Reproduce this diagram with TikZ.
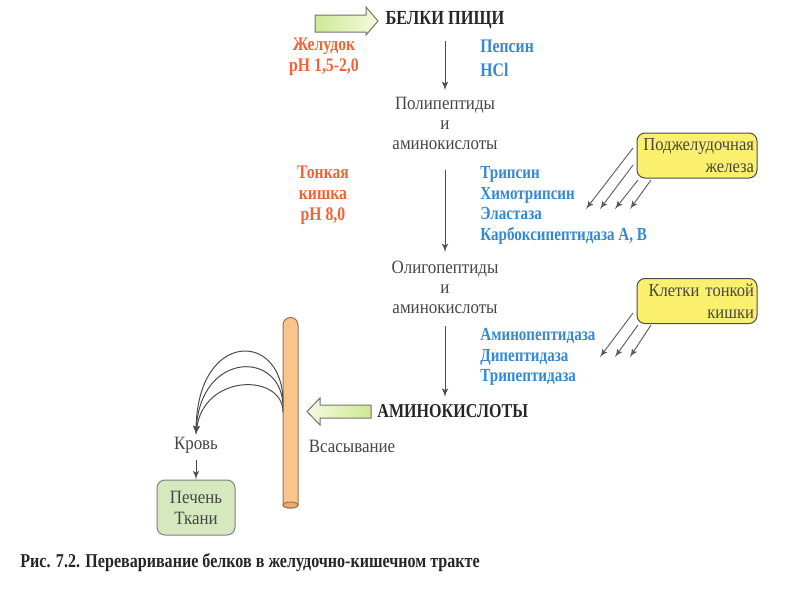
\documentclass[tikz,border=0pt]{standalone}
\usepackage{fontspec}
\setmainfont{Liberation Serif}
\newfontfamily\condfont[FakeStretch=0.82]{Liberation Serif}
\newfontfamily\bodyfont[FakeStretch=0.9]{Liberation Serif}
\usetikzlibrary{calc}
\usetikzlibrary{arrows}
\usepackage{xcolor}

\definecolor{enzblue}{RGB}{52,136,212}
\definecolor{organred}{RGB}{240,100,52}
\definecolor{glandyellow}{RGB}{250,240,110}
\definecolor{liverbg}{RGB}{214,232,190}
\definecolor{tubefill}{RGB}{248,198,140}
\definecolor{tubeend}{RGB}{238,168,110}
\definecolor{tubeline}{RGB}{160,115,80}
\definecolor{arrowgreen}{RGB}{205,232,150}
\definecolor{arrowpale}{RGB}{246,250,222}
\definecolor{inkgrey}{RGB}{70,70,70}

\tikzset{
  txt/.style={font=\bodyfont\fontsize{9.4}{10}\selectfont, text=inkgrey, align=center, inner sep=1pt},
  heading/.style={font=\condfont\bfseries\fontsize{10}{11}\selectfont, text=black!85, inner sep=1pt},
  enzyme/.style={font=\condfont\bfseries\fontsize{9.2}{10.2}\selectfont, text=enzblue, align=left, anchor=west, inner sep=0pt},
  organ/.style={font=\condfont\bfseries\fontsize{9.6}{10.5}\selectfont, text=organred, align=center, inner sep=0pt},
  gland/.style={draw=black!70, line width=0.5pt, fill=glandyellow, rounded corners=4pt,
    minimum width=60pt, minimum height=22.5pt, text width=57pt, align=right, inner sep=1.5pt,
    font=\bodyfont\fontsize{9.2}{11}\selectfont, text=inkgrey},
  liver/.style={draw=black!50, line width=0.5pt, fill=liverbg, rounded corners=4pt,
    minimum width=39pt, minimum height=27.5pt, align=center, inner sep=1pt,
    font=\bodyfont\fontsize{9.4}{10.5}\selectfont, text=inkgrey},
  flow/.style={draw=black!70, line width=0.5pt, arrows={-latex'}},
  enzarrow/.style={draw=black!65, line width=0.45pt, arrows={-latex'}},
  blockarrow/.style={draw=black!55, line width=0.5pt},
  tubebody/.style={draw=tubeline, line width=0.5pt, fill=tubefill}
}

\begin{document}
\begin{tikzpicture}[x=0.5pt,y=-0.5pt]
\useasboundingbox (0,0) rectangle (800,600);

\draw[blockarrow, left color=arrowgreen, right color=arrowpale]
  (315,15) -- (366,15) -- (366,7) -- (378,21) -- (366,35) -- (366,32) -- (315,32) -- cycle;
\node[heading] (belki) at (445,20) {БЕЛКИ ПИЩИ};

\node[organ] (stomach) at (324,57) {Желудок\\pH 1,5-2,0};
\node[enzyme, font=\condfont\bfseries\fontsize{9.6}{12}\selectfont] (pepsin) at (480,58) {Пепсин\\HCl};

\node[txt] (poly) at (445,123) {Полипептиды\\и\\аминокислоты};

\node[organ] (intestine) at (323,195) {Тонкая\\кишка\\pH 8,0};
\node[enzyme] (trypsin) at (480,205.5) {Трипсин\\Химотрипсин\\Эластаза\\Карбоксипептидаза А, В};
\node[gland] (pancreas) at (697,155.5) {Поджелудочная\\железа};

\node[txt] (oligo) at (445,287) {Олигопептиды\\и\\аминокислоты};

\node[gland] (cells) at (697,301) {Клетки тонкой\\кишки};
\node[enzyme] (peptidase) at (480,357) {Аминопептидаза\\Дипептидаза\\Трипептидаза};

\draw[blockarrow, left color=arrowpale, right color=arrowgreen]
  (371,405) -- (320,405) -- (320,398) -- (307,411.5) -- (320,425) -- (320,418) -- (371,418) -- cycle;
\node[heading, font=\condfont\bfseries\fontsize{9.8}{11}\selectfont, anchor=west] (amino) at (375,411) {АМИНОКИСЛОТЫ};

\draw[tubebody] (283,505) -- (283,325) arc[start angle=180, end angle=0, radius=3.75pt]
  -- (298,505) arc[start angle=0, end angle=-180, x radius=3.75pt, y radius=1.5pt] -- cycle;
\draw[tubebody, fill=tubeend] (290.5,505) ellipse [x radius=3.75pt, y radius=1.5pt];

\node[txt] (uptake) at (352,446) {Всасывание};
\node[txt] (blood) at (196,445) {Кровь};
\node[liver] (liver) at (196,507.5) {Печень\\Ткани};

\draw[flow, shorten <=5pt, shorten >=2pt] (belki) -- (poly);
\draw[flow, shorten <=9pt, shorten >=3pt] (poly) -- (oligo);
\draw[flow, shorten <=5pt, shorten >=2.5pt] (oligo) -- (amino.north -| oligo);

\foreach \i/\sx/\sy/\ex in {1/633/148/586,2/633/165/600,3/638/180/615,4/651/180/630}{
  \coordinate (ps\i) at (\sx,\sy);
  \coordinate (pe\i) at (\ex,209);
  \draw[enzarrow] (ps\i) -- (pe\i);
}
\foreach \i/\sx/\sy/\ex in {1/633/313/600,2/638/325/615,3/651/325/630}{
  \coordinate (cs\i) at (\sx,\sy);
  \coordinate (ce\i) at (\ex,357);
  \draw[enzarrow] (cs\i) -- (ce\i);
}

\coordinate (abs1) at (283,402);
\coordinate (abs2) at (283,407);
\coordinate (abs3) at (283,412);
\draw[flow] (abs1) .. controls (283,330) and (197,330) .. (blood.north);
\draw[flow] (abs2) .. controls (283,350) and (200,350) .. (blood.north);
\draw[flow] (abs3) .. controls (283,373) and (203,373) .. (blood.north);
\draw[flow, shorten <=2pt] (blood) -- (liver);

\node[heading, anchor=west, font=\condfont\bfseries\fontsize{9.8}{11}\selectfont] (caption) at (18,563)
  {Рис. 7.2. Переваривание белков в желудочно-кишечном тракте};

\end{tikzpicture}
\end{document}
